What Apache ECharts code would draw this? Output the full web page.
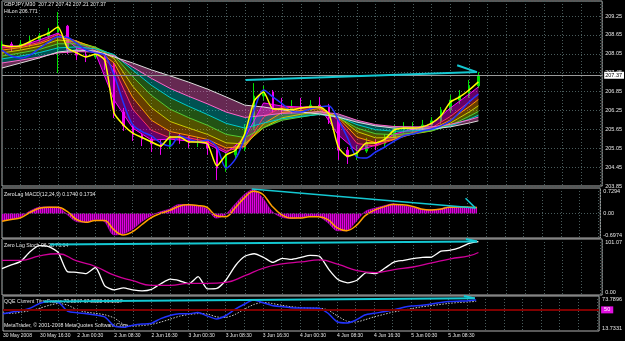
<!DOCTYPE html>
<html><head><meta charset="utf-8">
<script src="https://cdn.jsdelivr.net/npm/echarts@6/dist/echarts.min.js"></script>
<style>html,body{margin:0;padding:0;background:#000;}#c{width:625px;height:341px;}</style>
</head><body><div id="c"></div>
<script>
// ---------- data ----------
const xTickLabels = ['30 May 2008','30 May 16:30','2 Jun 00:30','2 Jun 08:30','2 Jun 16:30','3 Jun 00:30','3 Jun 08:30','3 Jun 16:30','4 Jun 00:30','4 Jun 08:30','4 Jun 16:30','5 Jun 00:30','5 Jun 08:30'];
const BARS_PER_LABEL = 16;
const TOTAL_BARS = 257;
const SAMPLE_STEP = 4;
const ribbonBars = [0,8,16,24,32,40,48,56,64,72,80,88,96,104,112,120,128,136,144,152,160,168,176,184,192,200,204];

// candles [open, close, low, high]
const candles = [
[208.30,208.36,208.17,208.46],[208.36,208.27,208.14,208.43],[208.27,208.36,208.20,208.49],[208.36,208.49,208.27,208.62],
[208.49,208.62,208.43,208.71],[208.62,208.74,208.55,208.87],[208.74,208.93,207.44,209.38],[208.93,208.17,208.04,208.97],
[208.17,208.01,207.85,208.24],[208.01,207.95,207.79,208.11],[207.95,208.08,207.89,208.17],[208.08,207.73,207.54,208.14],
[207.73,206.20,206.01,207.79],[206.20,205.76,205.60,206.33],[205.76,205.47,205.28,205.82],[205.47,205.34,205.12,205.53],
[205.34,205.19,204.93,205.41],[205.19,205.09,204.84,205.31],[205.09,205.44,205.03,205.57],[205.44,205.38,205.19,205.53],
[205.38,205.22,205.06,205.44],[205.22,205.28,205.09,205.41],[205.28,205.06,204.84,205.34],[205.06,204.42,204.04,205.12],
[204.42,204.84,204.30,204.93],[204.84,205.03,204.74,205.15],[205.03,205.69,204.96,205.82],[205.69,206.71,205.63,207.12],
[206.71,206.84,206.58,207.03],[206.84,206.33,206.17,206.90],[206.33,206.27,206.11,206.65],[206.27,206.36,206.14,206.58],
[206.36,206.30,206.17,206.65],[206.30,206.42,206.23,206.58],[206.42,206.39,206.27,206.68],[206.39,206.01,205.82,206.46],
[206.01,204.99,204.68,206.07],[204.99,204.77,204.55,205.09],[204.77,204.96,204.68,205.15],[204.96,205.22,204.90,205.38],
[205.22,205.19,204.99,205.34],[205.19,205.41,205.09,205.50],[205.41,205.66,205.31,205.79],[205.66,205.69,205.53,205.88],
[205.69,205.73,205.57,205.88],[205.73,205.79,205.60,205.95],[205.79,205.92,205.69,206.04],[205.92,206.27,205.82,206.36],
[206.27,206.58,206.17,206.74],[206.58,206.71,206.46,206.90],[206.71,207.03,206.65,207.22],[207.03,207.37,206.96,207.47]
];
const lastClose = 207.37;

const fastMA = [208.33,208.28,208.31,208.44,208.59,208.71,208.90,208.24,208.08,207.95,208.04,207.85,206.17,205.79,205.53,205.39,205.25,205.12,205.41,205.41,205.25,205.25,205.19,204.49,204.84,204.99,205.53,206.55,206.84,206.30,206.30,206.27,206.33,206.36,206.36,206.14,205.09,204.80,204.90,205.22,205.22,205.34,205.63,205.69,205.69,205.73,205.85,206.08,206.52,206.68,206.90,207.16];
const slowMA = [208.17,207.98,207.92,208.01,208.22,208.43,208.59,208.57,208.39,208.17,208.08,208.01,207.38,206.49,205.79,205.58,205.44,205.22,205.12,205.44,205.34,205.25,205.31,205.09,204.42,204.71,205.38,206.27,206.90,206.68,206.46,206.23,206.20,206.30,206.36,206.39,205.95,205.38,204.77,204.74,204.93,205.09,205.28,205.44,205.50,205.60,205.66,205.76,205.92,206.20,206.52,206.77];

const ribbon0 = [208.30,208.30,208.49,208.71,208.24,208.08,206.58,205.69,205.31,205.34,205.28,205.19,204.90,205.38,206.49,206.39,206.36,206.36,205.47,204.96,205.15,205.50,205.66,205.82,206.33,206.77,207.00];
const ribbon1 = [208.24,208.29,208.41,208.67,208.45,208.14,207.60,206.29,205.62,205.38,205.38,205.26,204.96,205.10,206.04,206.36,206.32,206.35,205.95,205.20,205.12,205.33,205.56,205.70,206.06,206.52,206.77];
const ribbon2 = [208.17,208.25,208.37,208.59,208.46,208.22,207.76,206.66,205.94,205.58,205.46,205.33,205.06,205.11,205.83,206.19,206.25,206.31,206.02,205.40,205.23,205.33,205.51,205.65,205.95,206.37,206.60];
const ribbon3 = [208.08,208.17,208.29,208.49,208.44,208.26,207.90,207.02,206.34,205.90,205.69,205.49,205.22,205.19,205.70,206.02,206.13,206.23,206.05,205.58,205.38,205.39,205.50,205.60,205.85,206.20,206.40];
const ribbon4 = [207.98,208.08,208.19,208.37,208.37,208.26,208.00,207.32,206.73,206.29,206.02,205.78,205.49,205.39,205.70,205.94,206.04,206.14,206.03,205.69,205.51,205.48,205.53,205.60,205.78,206.06,206.22];
const ribbon5 = [207.89,207.98,208.09,208.24,208.27,208.21,208.03,207.53,207.05,206.66,206.38,206.12,205.84,205.69,205.85,205.99,206.06,206.12,206.05,205.80,205.64,205.59,205.60,205.64,205.76,205.97,206.10];
const ribbon6 = [207.76,207.85,207.95,208.08,208.12,208.11,207.99,207.63,207.27,206.95,206.70,206.46,206.20,206.03,206.09,206.16,206.18,206.21,206.14,205.94,205.80,205.74,205.73,205.73,205.81,205.95,206.04];
const ribbon7 = [207.60,207.76,207.92,208.11,208.17,208.14,207.95,207.76,207.54,207.35,207.15,206.93,206.68,206.42,206.36,206.27,206.20,206.14,206.04,205.88,205.76,205.69,205.66,205.66,205.73,205.85,205.92];

const macdHist = [-0.20,-0.16,-0.09,0.07,0.18,0.19,0.18,-0.03,-0.23,-0.25,-0.17,-0.23,-0.61,-0.58,-0.45,-0.23,-0.06,0.05,0.13,0.26,0.25,0.23,0.13,-0.13,-0.03,0.26,0.54,0.69,0.44,0.06,-0.10,-0.14,-0.12,-0.07,-0.09,-0.26,-0.49,-0.49,-0.23,0.06,0.15,0.22,0.28,0.23,0.18,0.12,0.10,0.13,0.19,0.19,0.18,0.1740];
const macdSignal = [-0.22,-0.17,-0.12,0.03,0.15,0.18,0.18,0.06,-0.17,-0.25,-0.20,-0.20,-0.46,-0.61,-0.52,-0.32,-0.12,0.00,0.09,0.21,0.25,0.23,0.18,-0.06,-0.09,0.15,0.44,0.64,0.55,0.21,-0.03,-0.13,-0.13,-0.09,-0.09,-0.17,-0.41,-0.49,-0.35,-0.06,0.10,0.19,0.26,0.25,0.21,0.13,0.10,0.12,0.18,0.19,0.18,0.1734];

const stochMain = [47.78,54.21,60.64,78.10,89.13,87.29,77.18,42.27,40.98,38.59,49.62,16.54,9.19,12.87,9.19,7.35,10.11,20.22,28.49,25.73,20.22,33.08,11.03,11.95,27.57,53.29,69.83,74.43,67.97,58.81,66.16,64.32,67.99,71.67,69.83,45.94,27.57,22.06,26.65,40.43,38.59,48.70,59.72,62.48,65.60,67.99,68.55,79.02,80.86,85.45,93.17,96.38];
const stochSignal = [62.48,62.48,70.75,74.42,61.56,51.45,35.84,25.73,17.46,17.46,21.14,21.14,22.97,34.92,48.70,56.05,59.72,63.40,55.13,44.10,40.43,45.94,50.53,57.89,65.24,70.75,76.64];

const qqeRsi = [43.23,46.41,49.06,53.48,61.43,64.96,62.31,47.29,44.99,43.41,41.11,37.58,22.03,20.27,23.45,25.57,26.98,34.93,40.23,43.23,43.23,45.53,39.70,34.40,39.88,50.83,59.66,66.72,62.31,57.54,55.60,53.83,53.12,53.12,52.77,44.64,29.63,27.51,32.28,41.11,44.11,46.59,49.77,53.65,56.66,57.54,59.66,62.31,64.25,64.96,65.31,66.72];
const qqeTrail = [44.5,44.0,46.0,49.0,53.0,58.0,61.0,58.0,50.0,46.0,44.0,41.5,36.0,25.0,22.0,23.0,25.0,29.0,34.0,39.0,42.0,43.5,43.0,38.0,37.0,42.0,51.0,59.0,63.0,61.0,58.0,55.5,54.0,53.0,53.0,50.0,40.0,31.0,29.0,33.0,38.0,42.0,46.0,49.0,52.0,55.0,57.0,59.0,61.0,62.5,63.5,64.5];
const QQE_LEVEL = 50;

// hand-drawn trend lines [bar, value]
const priceTrend = [[104.3,207.22],[203.4,207.47]];
const priceBarb  = [[194.9,207.69],[203.4,207.47]];
const macdTrend  = [[107.3,0.70],[203.4,0.156]];
const macdBarb   = [[199.1,0.438],[203.4,0.156]];
const stochTrend = [[20.5,90.96],[203.4,96.48]];
const stochBarb  = [[198.7,101.07],[203.4,96.48]];
const qqeTrend   = [[17.5,64.43],[203.4,69.73]];
const qqeBarb    = [[198.7,73.79],[203.4,69.73]];

// axis scales
const priceMin = 203.85, priceMax = 209.73, priceStep = 0.6;
const macdMin = -0.6974, macdMax = 0.7294, macdLabels = [-0.6974, 0, 0.7294];
const stochMin = 0, stochMax = 101.07, stochLabels = [0, 101.07];
const qqeMin = 13.7331, qqeMax = 73.7896, qqeLabels = [13.7331, 73.7896];

const symbolTitle = 'GBPJPY,M30  207.27 207.42 207.21 207.37';
const hiloTitle = 'HiLon 206.771';
const macdTitle = 'ZeroLag MACD(12,24,9) 0.1740 0.1734';
const stochTitle = 'Zero Lag Stoch 96.38 76.64';
const qqeTitle = 'QQE Current TimeFrame 73.8897 67.8988 66.1057';
const copyright = 'MetaTrader, \u00a9 2001-2008 MetaQuotes Software Corp.';

// ---------- chart ----------
const FONT = '"Liberation Sans",Arial,sans-serif';
const TXT = '#e6e6e6';
const GRIDC = '#4a5c5c';
const CYAN = '#14c8d2';
const ribbonColors = ['#ff00ff','#ff3366','#ff9900','#cccc00','#55cc33','#00cccc','#ff66cc','#dcdcdc'];
const ribbons = [ribbon0,ribbon1,ribbon2,ribbon3,ribbon4,ribbon5,ribbon6,ribbon7];

const at4 = arr => arr.map((v,k) => [k*SAMPLE_STEP, v]);
const atRib = arr => arr.map((v,k) => [ribbonBars[k], v]);
const line = (xi, data, color, width, extra) => Object.assign({
  type:'line', xAxisIndex:xi, yAxisIndex:xi, data, showSymbol:false, symbol:'none',
  lineStyle:{color, width}, itemStyle:{color}, silent:true, z:3
}, extra || {});

// band cells between neighbouring averages: [bar0, bar1, a0, a1, b0, b1, bandIndex]
const bandCells = [];
for (let i = 0; i < ribbons.length - 1; i++) {
  for (let k = 0; k < ribbonBars.length - 1; k++) {
    bandCells.push([ribbonBars[k], ribbonBars[k+1], ribbons[i][k], ribbons[i][k+1], ribbons[i+1][k], ribbons[i+1][k+1], i]);
  }
}

// striped fill for the MACD histogram
const stripe = document.createElement('canvas');
stripe.width = 2; stripe.height = 1;
(function(){ const c = stripe.getContext('2d'); c.fillStyle = '#e000e0'; c.fillRect(0,0,1,1); c.fillStyle = '#700070'; c.fillRect(1,0,1,1); })();

const grids = [
  {top:1, height:185}, {top:188, height:50}, {top:239, height:56}, {top:296, height:35}
].map(g => Object.assign({left:2, right:22, show:true, borderColor:'#b0b0b0', borderWidth:1, backgroundColor:'transparent'}, g));

const xAxes = [0,1,2,3].map(i => ({
  type:'value', gridIndex:i, min:0, max:TOTAL_BARS, interval:8,
  axisLine:{show:false}, axisTick:{show:false},
  axisLabel: i === 3 ? {
    show:true, color:TXT, fontSize:5, fontFamily:FONT, align:'left', margin:2.5, showMaxLabel:false,
    formatter: v => (v % BARS_PER_LABEL === 0 && v / BARS_PER_LABEL < xTickLabels.length) ? xTickLabels[v / BARS_PER_LABEL] : ''
  } : {show:false},
  splitLine:{show:true, lineStyle:{color:GRIDC, type:[1,2], width:1}}
}));

const edgeLabel = (vals, fmt) => ({
  color:TXT, fontSize:5.5, fontFamily:FONT, margin:3, customValues:vals, formatter:fmt,
  verticalAlignMaxLabel:'top', verticalAlignMinLabel:'bottom'
});
const yAxes = [
  {type:'value', gridIndex:0, position:'right', min:priceMin, max:priceMax, interval:priceStep,
   axisLine:{show:false}, axisTick:{show:false},
   axisLabel:{color:TXT, fontSize:5.5, fontFamily:FONT, margin:3, showMaxLabel:false, formatter:v => v.toFixed(2)},
   splitLine:{show:true, lineStyle:{color:GRIDC, type:[1,2], width:1}}},
  {type:'value', gridIndex:1, position:'right', min:macdMin, max:macdMax,
   axisLine:{show:false}, axisTick:{show:false, customValues:macdLabels},
   axisLabel:edgeLabel(macdLabels, v => v === 0 ? '0.00' : v.toFixed(4)), splitLine:{show:false}},
  {type:'value', gridIndex:2, position:'right', min:stochMin, max:stochMax,
   axisLine:{show:false}, axisTick:{show:false, customValues:stochLabels},
   axisLabel:edgeLabel(stochLabels, v => v.toFixed(2)), splitLine:{show:false}},
  {type:'value', gridIndex:3, position:'right', min:qqeMin, max:qqeMax,
   axisLine:{show:false}, axisTick:{show:false, customValues:qqeLabels},
   axisLabel:edgeLabel(qqeLabels, v => v.toFixed(4)), splitLine:{show:false}}
];

const series = [];
series.push({
  type:'candlestick', xAxisIndex:0, yAxisIndex:0, z:1, silent:true,
  data: candles.map((c,k) => [k*SAMPLE_STEP, c[0], c[1], c[2], c[3]]),
  encode:{x:0, y:[1,2,3,4]}, barWidth:2,
  itemStyle:{color:'#00e000', color0:'#ee00ee', borderColor:'#00e000', borderColor0:'#ee00ee', borderWidth:1},
  markLine:{symbol:'none', silent:true, data:[{yAxis:lastClose}],
    lineStyle:{color:'#9a9a9a', width:1, type:'solid'},
    label:{show:true, position:'end', formatter:lastClose.toFixed(2), color:'#000', backgroundColor:'#ffffff',
      padding:[1,2,0,1], fontSize:5.5, fontFamily:FONT, distance:2}}
});
series.push({
  type:'custom', xAxisIndex:0, yAxisIndex:0, z:2, silent:true, data:bandCells,
  encode:{x:[0,1], y:[2,3,4,5]},
  renderItem:(params, api) => {
    const p1 = api.coord([api.value(0), api.value(2)]);
    const p2 = api.coord([api.value(1), api.value(3)]);
    const p3 = api.coord([api.value(1), api.value(5)]);
    const p4 = api.coord([api.value(0), api.value(4)]);
    return {type:'polygon', shape:{points:[p1,p2,p3,p4]},
      style:{fill:ribbonColors[api.value(6)], opacity:0.4, stroke:null}};
  }
});
ribbons.forEach((r,i) => series.push(line(0, atRib(r), ribbonColors[i], 1, {z:2})));
series.push(line(0, at4(slowMA), '#2233ff', 1.5, {smooth:0.3}));
series.push(line(0, at4(fastMA), '#ffff00', 1.5, {smooth:0.2}));
series.push(line(0, priceTrend, CYAN, 2, {z:5}));
series.push(line(0, priceBarb, CYAN, 2, {z:5}));

series.push(line(1, at4(macdHist), '#d000d0', 0.6, {smooth:0.3, z:2, areaStyle:{color:{image:stripe, repeat:'repeat'}, opacity:1},
  markLine:{symbol:'none', silent:true, data:[{yAxis:0}], lineStyle:{color:GRIDC, type:[1,2], width:1}, label:{show:false}}}));
series.push(line(1, at4(macdSignal), '#ffa000', 1.5, {smooth:0.4}));
series.push(line(1, macdTrend, CYAN, 1.5, {z:5}));
series.push(line(1, macdBarb, CYAN, 1.5, {z:5}));

series.push(line(2, at4(stochMain), '#ffffff', 1.3, {smooth:0.2}));
series.push(line(2, atRib(stochSignal), '#d0009a', 1.3, {smooth:0.5}));
series.push(line(2, stochTrend, CYAN, 2, {z:5}));
series.push(line(2, stochBarb, CYAN, 2, {z:5}));

series.push({type:'line', xAxisIndex:3, yAxisIndex:3, data:[], z:1, silent:true,
  markLine:{symbol:'none', silent:true, data:[{yAxis:QQE_LEVEL}],
    lineStyle:{color:'#800000', width:2, type:'solid'},
    label:{show:true, position:'end', formatter:String(QQE_LEVEL), color:'#ffffff', backgroundColor:'#e010e0',
      padding:[1,3,0,3], fontSize:5.5, fontFamily:FONT, distance:2}}});
series.push(line(3, at4(qqeTrail), '#c8c8c8', 1, {smooth:0.2, lineStyle:{color:'#c8c8c8', width:1, type:[1.5,1.5]}}));
series.push(line(3, at4(qqeRsi), '#2233ff', 1.5, {smooth:0.2}));
series.push(line(3, qqeTrend, CYAN, 2, {z:5}));
series.push(line(3, qqeBarb, CYAN, 2, {z:5}));

const txt = (left, top, text) => ({type:'text', left, top, z:0, silent:true,
  style:{text, fill:TXT, fontSize:5.2, fontFamily:FONT}});

const chart = echarts.init(document.getElementById('c'));
chart.setOption({
  backgroundColor:'#000', animation:false,
  grid:grids, xAxis:xAxes, yAxis:yAxes, series,
  graphic:[
    txt(4, 2.5, symbolTitle), txt(4, 9, hiloTitle), txt(4, 192.5, macdTitle),
    txt(4, 243, stochTitle), txt(4, 299.5, qqeTitle), txt(4, 323, copyright)
  ]
});
</script></body></html>
